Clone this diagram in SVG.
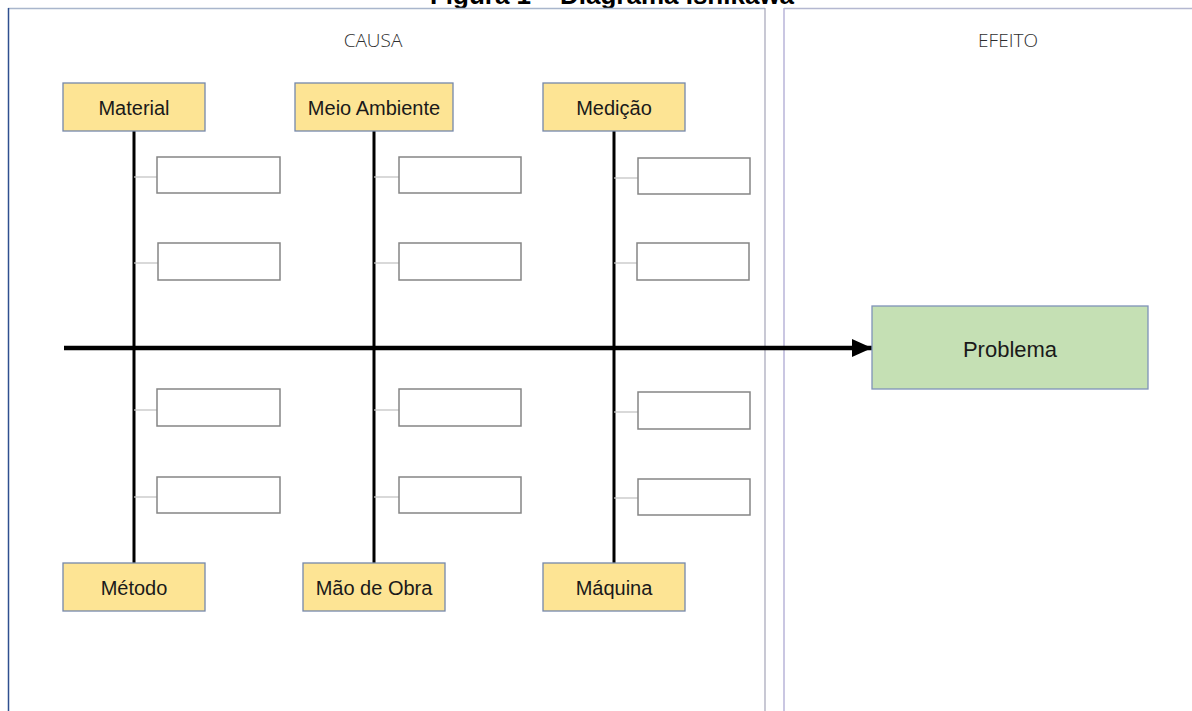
<svg xmlns="http://www.w3.org/2000/svg" width="1192" height="711" viewBox="0 0 1192 711">
<style>
.lbl{font-family:"Liberation Sans",Arial,sans-serif;font-size:20px;fill:#1a1a1a;text-anchor:middle}
.hdr{font-family:"Open Sans","Liberation Sans",sans-serif;font-weight:300;font-size:19px;fill:#2e2e2e;text-anchor:middle}
.cat{fill:#fde494;stroke:#7588ab;stroke-width:1.3}
.sub{fill:#ffffff;stroke:#858585;stroke-width:1.5}
.bone{stroke:#000;stroke-width:3;fill:none}
.twig{stroke:#c4c4c4;stroke-width:1.3;fill:none}
</style>
<defs>
<marker id="ah" markerWidth="4.5" markerHeight="4" refX="4.5" refY="2" orient="auto" markerUnits="strokeWidth">
<path d="M0,0 L4.5,2 L0,4 Z" fill="#000"/>
</marker>
</defs>
<rect width="1192" height="711" fill="#fff"/>
<text x="612" y="4" font-family="Liberation Sans,Arial,sans-serif" font-size="26" font-weight="bold" text-anchor="middle" fill="#000">Figura 1 – Diagrama Ishikawa</text>
<g id="panel-causa">
<line x1="8" y1="8.5" x2="765" y2="8.5" stroke="#a9b6cc" stroke-width="1.5"/>
<line x1="8.5" y1="8" x2="8.5" y2="711" stroke="#2f4f8f" stroke-width="1.5"/>
<line x1="765" y1="8" x2="765" y2="711" stroke="#a4a4b8" stroke-width="1.2"/>
<text class="hdr" x="373" y="47">CAUSA</text>
</g>
<g id="panel-efeito">
<line x1="784" y1="8.5" x2="1192" y2="8.5" stroke="#b4b8d0" stroke-width="1.5"/>
<line x1="784" y1="8" x2="784" y2="711" stroke="#b8b4d8" stroke-width="1.5"/>
<text class="hdr" x="1008" y="47">EFEITO</text>
</g>
<g id="connectors">
<line class="bone" x1="134" y1="131" x2="134" y2="563"/>
<line class="bone" x1="374" y1="131" x2="374" y2="563"/>
<line class="bone" x1="614" y1="131" x2="614" y2="563"/>
<line x1="64" y1="348" x2="872" y2="348" stroke="#000" stroke-width="4.5" marker-end="url(#ah)"/>
<line class="twig" x1="134" y1="177" x2="157" y2="177"/>
<line class="twig" x1="134" y1="263" x2="158" y2="263"/>
<line class="twig" x1="134" y1="410" x2="157" y2="410"/>
<line class="twig" x1="134" y1="497" x2="157" y2="497"/>
<line class="twig" x1="374" y1="177" x2="399" y2="177"/>
<line class="twig" x1="374" y1="263" x2="399" y2="263"/>
<line class="twig" x1="374" y1="410" x2="399" y2="410"/>
<line class="twig" x1="374" y1="497" x2="399" y2="497"/>
<line class="twig" x1="614" y1="178" x2="638" y2="178"/>
<line class="twig" x1="614" y1="263" x2="637" y2="263"/>
<line class="twig" x1="614" y1="412" x2="638" y2="412"/>
<line class="twig" x1="614" y1="498" x2="638" y2="498"/>
</g>
<g id="material"><rect class="cat" x="63" y="83" width="142" height="48"/><text class="lbl" x="134" y="115">Material</text></g>
<g id="meio-ambiente"><rect class="cat" x="295" y="83" width="158" height="48"/><text class="lbl" x="374" y="115">Meio Ambiente</text></g>
<g id="medicao"><rect class="cat" x="543" y="83" width="142" height="48"/><text class="lbl" x="614" y="115">Medição</text></g>
<g id="metodo"><rect class="cat" x="63" y="563" width="142" height="48"/><text class="lbl" x="134" y="595">Método</text></g>
<g id="mao-de-obra"><rect class="cat" x="303" y="563" width="142" height="48"/><text class="lbl" x="374" y="595">Mão de Obra</text></g>
<g id="maquina"><rect class="cat" x="543" y="563" width="142" height="48"/><text class="lbl" x="614" y="595">Máquina</text></g>
<g id="material-c1"><rect class="sub" x="157" y="157" width="123" height="36" stroke="#444"/></g>
<g id="material-c2"><rect class="sub" x="158" y="243" width="122" height="37"/></g>
<g id="metodo-c1"><rect class="sub" x="157" y="389" width="123" height="37"/></g>
<g id="metodo-c2"><rect class="sub" x="157" y="477" width="123" height="36"/></g>
<g id="meio-c1"><rect class="sub" x="399" y="157" width="122" height="36" stroke="#444"/></g>
<g id="meio-c2"><rect class="sub" x="399" y="243" width="122" height="37"/></g>
<g id="mao-c1"><rect class="sub" x="399" y="389" width="122" height="37"/></g>
<g id="mao-c2"><rect class="sub" x="399" y="477" width="122" height="36"/></g>
<g id="medicao-c1"><rect class="sub" x="638" y="158" width="112" height="36"/></g>
<g id="medicao-c2"><rect class="sub" x="637" y="243" width="112" height="37"/></g>
<g id="maquina-c1"><rect class="sub" x="638" y="392" width="112" height="37" stroke="#444"/></g>
<g id="maquina-c2"><rect class="sub" x="638" y="479" width="112" height="36"/></g>
<g id="problema"><rect x="872" y="306" width="276" height="83" fill="#c5e0b4" stroke="#7f93b8" stroke-width="1.3"/><text class="lbl" x="1010" y="357" style="font-size:22px">Problema</text></g>
</svg>
